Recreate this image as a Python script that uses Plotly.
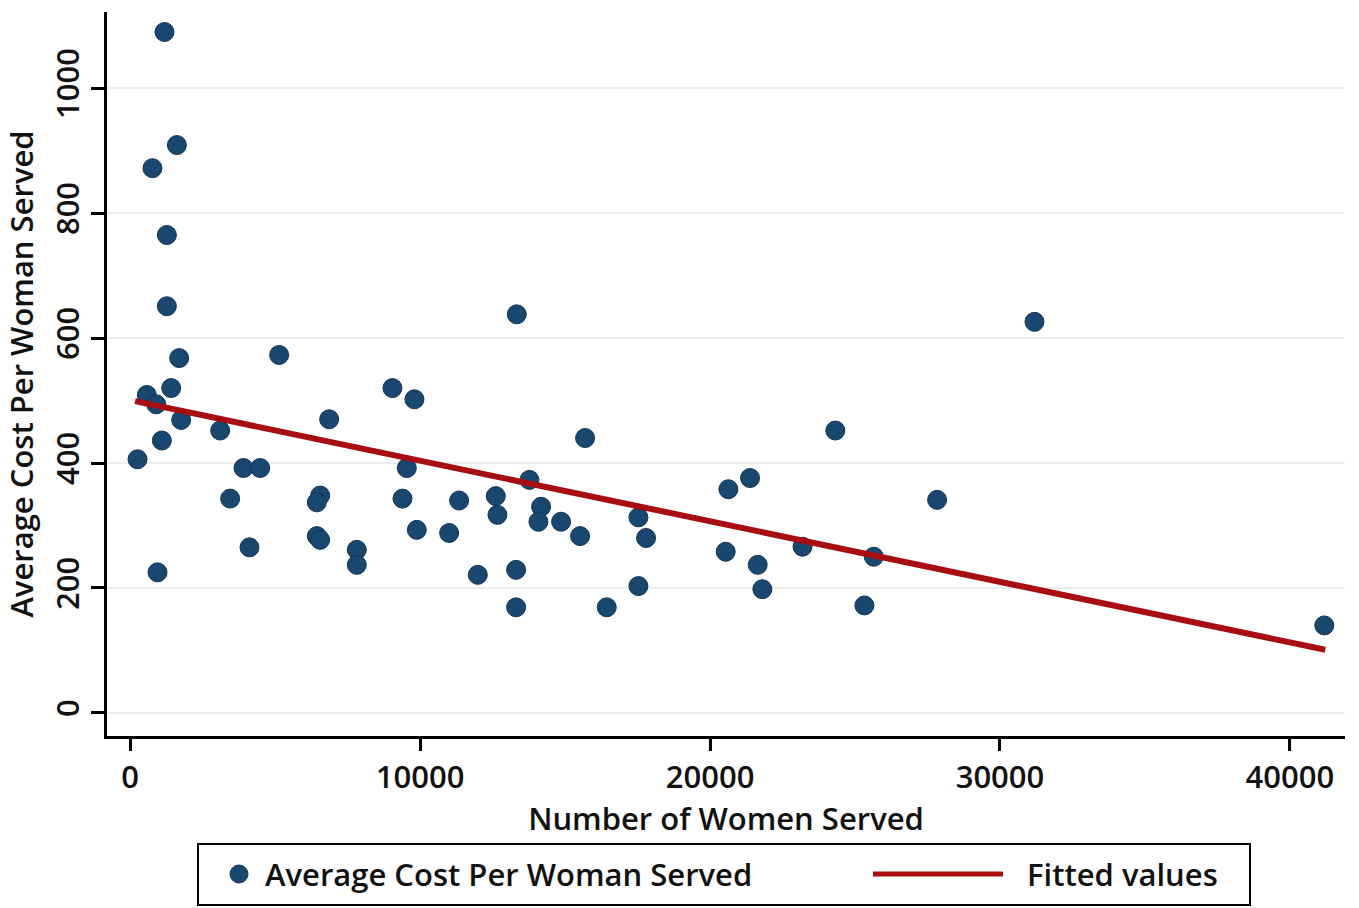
import plotly.graph_objects as go

# ---- data ----
women_served = [1183, 1610, 769, 1265, 1265, 5138, 1690, 1414, 575, 897,
                1759, 3103, 1092, 253, 3908, 4483, 3448, 6552, 6437, 6437,
                6552, 4115, 943, 7816, 7816, 9046, 9804, 6862, 9540, 9391,
                9885, 11000, 13333, 15690, 13770, 11345, 12609, 12667, 14172, 14080,
                14862, 15517, 17529, 17793, 11989, 13310, 13310, 16437, 17529, 20632,
                21379, 20540, 21644, 21804, 31190, 24321, 27831, 23190, 25648, 25324,
                41186]
avg_cost = [1090, 909, 872, 765, 651, 573, 568, 520, 509, 494,
            469, 452, 436, 406, 392, 392, 343, 348, 337, 283,
            277, 265, 225, 261, 237, 520, 502, 470, 392, 343,
            293, 288, 638, 440, 373, 340, 347, 317, 330, 306,
            306, 283, 313, 280, 221, 229, 169, 169, 203, 358,
            376, 258, 237, 198, 626, 452, 341, 266, 250, 172,
            140]
fit_x = [170, 41220]
fit_y = [499, 101]

x_ticks = [0, 10000, 20000, 30000, 40000]
y_ticks = [0, 200, 400, 600, 800, 1000]

# ---- styling ----
W, H = 1359, 908
L, R, T, B = 107, 14, 12, 172
NAVY = "#1a476f"
RED = "#a80d12"
FONT = "Open Sans"
FS = 31
WT = 600

def px(xp):
    return (xp - L) / (W - L - R)

def py(yp):
    return (H - B - yp) / (H - T - B)

def f(size=FS):
    return dict(family=FONT, size=size, color="#111111", weight=WT)

fig = go.Figure()
fig.add_trace(go.Scatter(
    x=women_served, y=avg_cost, mode="markers",
    name="Average Cost Per Woman Served",
    marker=dict(size=19, color=NAVY, line=dict(width=1, color="#123656")),
    showlegend=False, cliponaxis=False))
fig.add_trace(go.Scatter(
    x=fit_x, y=fit_y, mode="lines", name="Fitted values",
    line=dict(color=RED, width=6), showlegend=False))

# custom legend (box, marker, line sample, labels)
shapes = [
    dict(type="rect", xref="paper", yref="paper",
         x0=px(198), x1=px(1250), y0=py(844), y1=py(905),
         line=dict(color="black", width=2), fillcolor="white", layer="below"),
    dict(type="circle", xref="paper", yref="paper",
         x0=px(230), x1=px(248), y0=py(883), y1=py(865),
         line=dict(color="#123656", width=1), fillcolor=NAVY),
    dict(type="line", xref="paper", yref="paper",
         x0=px(873), x1=px(1003), y0=py(874), y1=py(874),
         line=dict(color=RED, width=5)),
]
annotations = [
    dict(text="Average Cost Per Woman Served", xref="paper", yref="paper",
         x=px(263), y=py(874), xanchor="left", yanchor="middle", showarrow=False,
         font=f()),
    dict(text="Fitted values", xref="paper", yref="paper",
         x=px(1025), y=py(874), xanchor="left", yanchor="middle", showarrow=False,
         font=f()),
]

fig.update_layout(
    width=W, height=H,
    margin=dict(l=L, r=R, t=T, b=B, autoexpand=False),
    paper_bgcolor="white", plot_bgcolor="white",
    font=f(),
    shapes=shapes, annotations=annotations,
    xaxis=dict(
        range=[-800, 41900], tickvals=x_ticks, ticktext=[str(v) for v in x_ticks],
        showgrid=False, zeroline=False, showline=True, linecolor="black", linewidth=3,
        ticks="outside", ticklen=12, tickwidth=3, tickcolor="black",
        tickfont=f(),
        title=dict(text="Number of Women Served", font=f(), standoff=8),
    ),
    yaxis=dict(
        range=[-37, 1122], tickvals=y_ticks, ticktext=[str(v) for v in y_ticks],
        showgrid=True, gridcolor="#ededed", gridwidth=2, zeroline=False,
        showline=True, linecolor="black", linewidth=3,
        ticks="outside", ticklen=13, tickwidth=3, tickcolor="black",
        tickangle=-90, tickfont=f(),
        title=dict(text="Average Cost Per Woman Served", font=f(), standoff=8),
    ),
)

fig.write_html("out.html", config={"displayModeBar": False},
               post_script="document.body.style.margin='0';")
